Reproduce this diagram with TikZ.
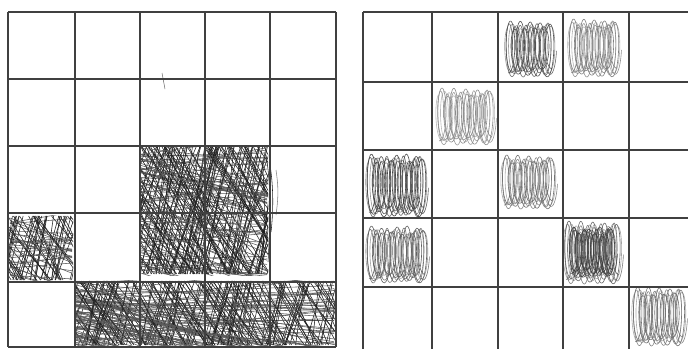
\documentclass[tikz,border=0pt]{standalone}
\begin{document}
\tikzset{
  gridline/.style={draw=black!75, line width=1.3pt},
  hatchline/.style={draw=black!88, line width=0.55pt},
  loopline/.style={line width=0.6pt},
}
\newcommand{\xhatch}[5]{% x1 y1 x2 y2 n
  \begin{scope}
  \clip (#1-1,#2-1) rectangle (#3+1,#4+1);
  \pgfmathsetmacro\ww{#3-#1}\pgfmathsetmacro\hh{#4-#2}
  \foreach \i in {1,...,#5}{
    \pgfmathsetmacro\ta{#1-0.7*\hh+rnd*(\ww+0.7*\hh)}
    \pgfmathsetmacro\tb{\ta+0.7*\hh*(0.6+0.6*rnd)}
    \draw[hatchline] (\ta,#2) -- (\tb,#4);
    \pgfmathsetmacro\tc{#1+rnd*(\ww+0.35*\hh)}
    \pgfmathsetmacro\td{\tc-0.35*\hh*(0.3+0.9*rnd)}
    \draw[hatchline] (\tc,#2) -- (\td,#4);
    \pgfmathsetmacro\ya{#2+rnd*\hh}
    \pgfmathsetmacro\yb{\ya+(rnd-0.3)*0.6*\ww}
    \draw[hatchline, draw=black!65] (#1,\ya) -- (#3,\yb);
  }
  \end{scope}}
\newcommand{\loops}[6]{% x1 y1 x2 y2 colour nloops
  \draw[loopline, #5] plot[smooth, samples=300, domain=0:1, variable=\t]
    ({#1+5+(#3-#1-10)*\t + 5.5*sin(\t*#6*360)},
     {(#2+#4)/2 + ((#4-#2)/2-3)*(0.85+0.15*sin(\t*1700))*cos(\t*#6*360)});
  \draw[loopline, #5, opacity=0.85] plot[smooth, samples=300, domain=0:1, variable=\t]
    ({#1+5+(#3-#1-10)*\t + 4.5*sin(\t*(#6-1)*360+90)},
     {(#2+#4)/2+1 + ((#4-#2)/2-4)*(0.9+0.1*sin(\t*1300))*cos(\t*(#6-1)*360+90)});
  \draw[loopline, #5, opacity=0.6] plot[smooth, samples=300, domain=0:1, variable=\t]
    ({#1+6+(#3-#1-12)*\t + 5*sin(\t*(#6+2)*360+200)},
     {(#2+#4)/2 + ((#4-#2)/2-6)*(0.9+0.1*sin(\t*900))*cos(\t*(#6+2)*360+200)});
}
\begin{tikzpicture}[x=1pt,y=-1pt]
\pgfmathsetseed{7}
\useasboundingbox (0,0) rectangle (688,349);
\fill[white] (0,0) rectangle (688,349);

% ---------- left grid scribbles ----------
\xhatch{10}{216}{72}{280}{30}
\xhatch{141}{147}{267}{274}{75}
\draw[hatchline] (266,155) .. controls (272,190) and (270,230) .. (268,262);
\draw[hatchline] (270,165) .. controls (274,190) and (273,215) .. (271,232);
\draw[hatchline] (262,160) .. controls (266,200) and (264,240) .. (262,270);
\draw[hatchline, draw=black!50] (276,170) .. controls (279,190) and (278,200) .. (276,215);
\xhatch{76}{281}{334}{345}{90}

% stray mark
\draw[black!60, line width=0.5pt] (162,73) -- (165,89);

% ---------- right grid scribbles ----------
\loops{503}{18}{557}{80}{black!68}{9}
\loops{566}{16}{622}{80}{black!50}{9}
\loops{434}{85}{497}{148}{black!45}{9}
\loops{364}{151}{429}{220}{black!72}{11}
\loops{499}{152}{558}{212}{black!55}{9}
\loops{364}{223}{430}{286}{black!62}{11}
\loops{561}{218}{624}{287}{black!60}{9}
\loops{566}{224}{618}{280}{black!75}{8}
\loops{630}{284}{688}{349}{black!55}{9}

% ---------- left grid ----------
\foreach \x in {8,75,140,205,270,336} \draw[gridline] (\x,12) -- (\x,347);
\foreach \y in {12,79,146,213,282,347} \draw[gridline] (8,\y) -- (336,\y);

% ---------- right grid ----------
\foreach \x in {363,432,498,563,629} \draw[gridline] (\x,12) -- (\x,349);
\foreach \y in {12,82,150,218,287} \draw[gridline] (363,\y) -- (688,\y);
\end{tikzpicture}
\end{document}
